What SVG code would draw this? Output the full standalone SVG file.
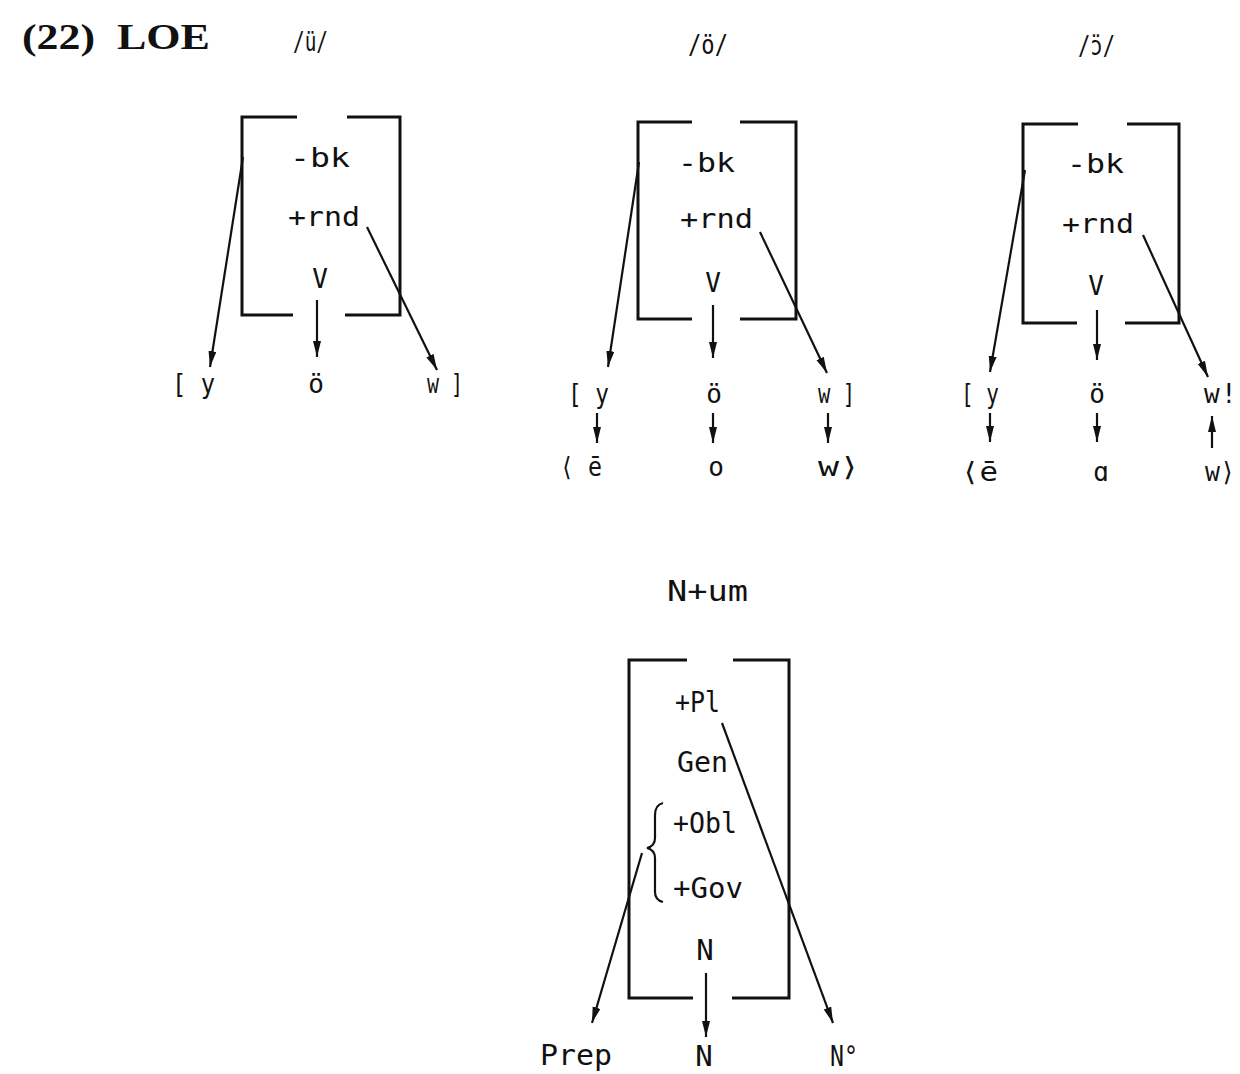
<svg xmlns="http://www.w3.org/2000/svg" width="1240" height="1074" viewBox="0 0 1240 1074">
  <defs>
    <marker id="head" markerUnits="userSpaceOnUse" markerWidth="18" markerHeight="10" refX="16" refY="4" orient="auto">
      <path d="M0,0 L16,4 L0,8 Z" fill="#111"/>
    </marker>
    <style>
      .bk { fill: none; stroke: #111; stroke-width: 3; }
      .ln { fill: none; stroke: #111; stroke-width: 2.2; marker-end: url(#head); }
      .t  { font-family: "DejaVu Sans Mono", "Liberation Mono", monospace; font-size: 26px; fill: #111; }
      .tb { font-family: "DejaVu Sans Mono", "Liberation Mono", monospace; font-size: 29px; fill: #111; }
      .c  { text-anchor: middle; }
      .ttl { font-family: "Liberation Serif", "DejaVu Serif", serif; font-weight: bold; font-size: 36px; fill: #111; }
    </style>
  </defs>
  <rect width="1240" height="1074" fill="#fff"/>

  <!-- heading -->
  <g id="title">
    <text class="ttl" x="22" y="49" textLength="73" lengthAdjust="spacingAndGlyphs">(22)</text>
    <text class="ttl" x="117" y="49" textLength="93" lengthAdjust="spacingAndGlyphs">LOE</text>
  </g>

  <!-- phoneme headers -->
  <g id="hdr-u"><text class="t" x="293" y="51" textLength="35" lengthAdjust="spacingAndGlyphs">/ü/</text></g>
  <g id="hdr-o"><text class="t" x="688" y="54" textLength="40" lengthAdjust="spacingAndGlyphs">/ö/</text></g>
  <g id="hdr-oo"><text class="t" x="1078" y="55" textLength="37" lengthAdjust="spacingAndGlyphs">/ɔ̈/</text></g>

  <!-- matrix 1 -->
  <g id="m1">
    <path class="bk" d="M297,117 H242 V315 H293"/>
    <path class="bk" d="M347,117 H400 V315 H345"/>
    <text class="t" x="290" y="167" textLength="60" lengthAdjust="spacingAndGlyphs">-bk</text>
    <text class="t" x="288" y="226" textLength="72" lengthAdjust="spacingAndGlyphs">+rnd</text>
    <text class="t c" x="320" y="288">V</text>
  </g>
  <g id="m1-y"><text class="t" x="172" y="393" textLength="43" lengthAdjust="spacingAndGlyphs">[ y</text></g>
  <g id="m1-o"><text class="t c" x="316" y="393">ö</text></g>
  <g id="m1-w"><text class="t" x="427" y="393" textLength="36" lengthAdjust="spacingAndGlyphs">w ]</text></g>

  <!-- matrix 2 -->
  <g id="m2">
    <path class="bk" d="M692,122 H638 V319 H692"/>
    <path class="bk" d="M740,122 H796 V319 H740"/>
    <text class="t" x="678" y="172" textLength="57" lengthAdjust="spacingAndGlyphs">-bk</text>
    <text class="t" x="680" y="228" textLength="73" lengthAdjust="spacingAndGlyphs">+rnd</text>
    <text class="t c" x="713" y="292">V</text>
  </g>
  <g id="m2-y"><text class="t" x="568" y="403" textLength="41" lengthAdjust="spacingAndGlyphs">[ y</text></g>
  <g id="m2-o"><text class="t c" x="714" y="403">ö</text></g>
  <g id="m2-w"><text class="t" x="818" y="403" textLength="37" lengthAdjust="spacingAndGlyphs">w ]</text></g>
  <g id="m2-e"><text class="t" x="560" y="476" textLength="42" lengthAdjust="spacingAndGlyphs">⟨ ē</text></g>
  <g id="m2-o2"><text class="t c" x="716" y="476">o</text></g>
  <g id="m2-w2"><text class="t" x="818" y="476" textLength="42" lengthAdjust="spacingAndGlyphs">w⟩</text></g>

  <!-- matrix 3 -->
  <g id="m3">
    <path class="bk" d="M1078,124 H1023 V323 H1077"/>
    <path class="bk" d="M1127,124 H1179 V323 H1125"/>
    <text class="t" x="1067" y="173" textLength="57" lengthAdjust="spacingAndGlyphs">-bk</text>
    <text class="t" x="1062" y="233" textLength="72" lengthAdjust="spacingAndGlyphs">+rnd</text>
    <text class="t c" x="1096" y="295">V</text>
  </g>
  <g id="m3-y"><text class="t" x="961" y="403" textLength="38" lengthAdjust="spacingAndGlyphs">[ y</text></g>
  <g id="m3-o"><text class="t c" x="1097" y="403">ö</text></g>
  <g id="m3-w">
    <text class="t" x="1204" y="403">w</text>
    <text class="t" x="1221" y="403">!</text>
  </g>
  <g id="m3-e"><text class="t" x="961" y="481" textLength="37" lengthAdjust="spacingAndGlyphs">⟨ē</text></g>
  <g id="m3-a"><text class="t c" x="1101" y="481">ɑ</text></g>
  <g id="m3-w2"><text class="t" x="1205" y="481" textLength="30" lengthAdjust="spacingAndGlyphs">w⟩</text></g>

  <!-- matrix 4 -->
  <g id="m4-head"><text class="tb" x="667" y="601" textLength="81" lengthAdjust="spacingAndGlyphs">N+um</text></g>
  <g id="m4">
    <path class="bk" d="M687,660 H629 V998 H693"/>
    <path class="bk" d="M733,660 H789 V998 H732"/>
    <path d="M663,803 Q655,805 655,815 V838 Q655,846 647,848 Q655,850 655,858 V892 Q655,900 663,902" fill="none" stroke="#111" stroke-width="2.2"/>
    <text class="tb" x="675" y="712" textLength="45" lengthAdjust="spacingAndGlyphs">+Pl</text>
    <text class="tb" x="677" y="772" textLength="51" lengthAdjust="spacingAndGlyphs">Gen</text>
    <text class="tb" x="673" y="833" textLength="64" lengthAdjust="spacingAndGlyphs">+Obl</text>
    <text class="tb" x="673" y="898" textLength="70" lengthAdjust="spacingAndGlyphs">+Gov</text>
    <text class="tb c" x="705" y="960">N</text>
  </g>
  <g id="m4-prep"><text class="tb" x="540" y="1065" textLength="72" lengthAdjust="spacingAndGlyphs">Prep</text></g>
  <g id="m4-n"><text class="tb c" x="704" y="1066">N</text></g>
  <g id="m4-n0"><text class="tb" x="830" y="1066" textLength="28" lengthAdjust="spacingAndGlyphs">N°</text></g>

  <!-- connectors -->
  <g id="connectors">
    <line class="ln" x1="243" y1="157" x2="210" y2="367"/>
    <line class="ln" x1="367" y1="227" x2="437" y2="370"/>
    <line class="ln" x1="317" y1="300" x2="317" y2="357"/>

    <line class="ln" x1="639" y1="162" x2="608" y2="367"/>
    <line class="ln" x1="760" y1="232" x2="827" y2="373"/>
    <line class="ln" x1="713" y1="305" x2="713" y2="358"/>
    <line class="ln" x1="597" y1="413" x2="597" y2="443"/>
    <line class="ln" x1="713" y1="413" x2="713" y2="443"/>
    <line class="ln" x1="828" y1="413" x2="828" y2="443"/>

    <line class="ln" x1="1025" y1="170" x2="990" y2="372"/>
    <line class="ln" x1="1143" y1="235" x2="1208" y2="377"/>
    <line class="ln" x1="1097" y1="310" x2="1097" y2="360"/>
    <line class="ln" x1="990" y1="413" x2="990" y2="442"/>
    <line class="ln" x1="1097" y1="413" x2="1097" y2="442"/>
    <line class="ln" x1="1212" y1="448" x2="1212" y2="416"/>

    <line class="ln" x1="642" y1="853" x2="592" y2="1023"/>
    <line class="ln" x1="722" y1="723" x2="833" y2="1023"/>
    <line class="ln" x1="706" y1="973" x2="706" y2="1037"/>
  </g>
</svg>
